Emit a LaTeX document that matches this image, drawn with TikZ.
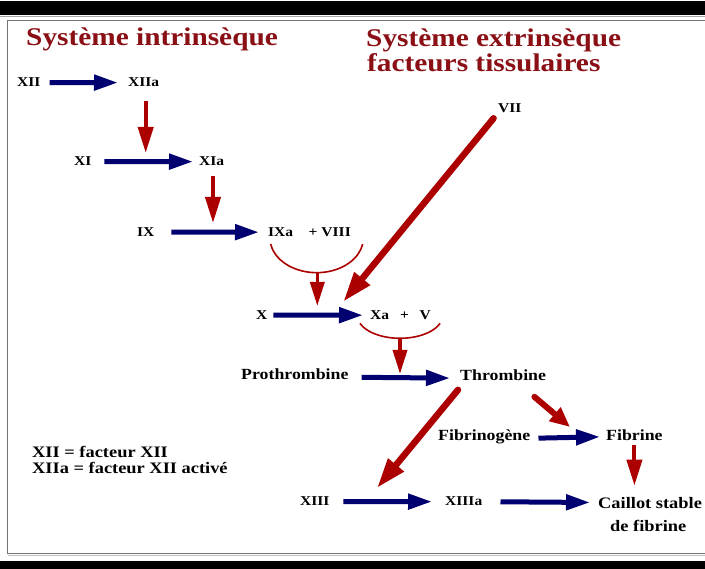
\documentclass[tikz,border=0pt]{standalone}
\usepackage{fontspec}
\setmainfont{Liberation Serif}
\usetikzlibrary{arrows.meta}
\definecolor{navyb}{RGB}{0,0,112}
\definecolor{redarr}{RGB}{172,0,0}
\definecolor{titlered}{RGB}{138,16,22}
\newcommand{\st}[1]{\scalebox{1.15}[1]{#1}}
\tikzset{
  num/.style={font=\fontsize{13.5}{16}\selectfont\bfseries, inner sep=0pt, anchor=base west},
  lbl/.style={font=\fontsize{15.5}{18}\selectfont\bfseries, inner sep=0pt, anchor=base west},
  big/.style={font=\fontsize{16}{18}\selectfont\bfseries, inner sep=0pt, anchor=base west},
  leg/.style={font=\fontsize{16}{18}\selectfont\bfseries, inner sep=0pt, anchor=base west},
  ttl/.style={font=\fontsize{25.5}{30}\selectfont\bfseries, text=titlered, inner sep=0pt, anchor=base west},
  bluearr/.style={draw=navyb, line width=5pt, -{Triangle[length=24pt,width=15pt]}},
  redv/.style={draw=redarr, line width=4pt, -{Triangle[length=26pt,width=15pt]}},
  redshort/.style={draw=redarr, line width=3.5pt, -{Triangle[length=24pt,width=14pt]}},
  reddiag/.style={draw=redarr, line width=6.5pt, line cap=round, -{Triangle[length=30pt,width=19pt]}},
  redsmall/.style={draw=redarr, line width=6pt, line cap=round, -{Triangle[length=20pt,width=17pt]}},
  arcline/.style={draw=redarr, line width=1.6pt},
  frameline/.style={draw=black!55, line width=1.3pt},
}
\begin{document}
\begin{tikzpicture}[x=1pt,y=-1pt]
\useasboundingbox (0,0) rectangle (705,569);
\fill[white] (0,0) rectangle (705,569);
% top and bottom bars
\fill[black] (0,1.5) rectangle (705,15);
\draw[black!35, line width=1pt] (0,16.2) -- (705,16.2);
\fill[black] (0,560.5) rectangle (705,569);
\draw[frameline] (705,20.7) -- (7.7,20.7) -- (7.7,553.5) -- (705,553.5);
\draw[black!25, line width=0.8pt] (7.7,555.5) -- (705,555.5);

% titles
\node[ttl] (t1) at (26,45.5) {\st{Système intrinsèque}};
\node[ttl] (t2) at (366,46.5) {\st{Système extrinsèque}};
\node[ttl] (t3) at (367,71.5) {\st{facteurs tissulaires}};

% factors
\node[num] (XII) at (17,87) {\st{XII}};
\node[num] (XIIa) at (128,87) {\st{XIIa}};
\node[num] (XI) at (74,166) {\st{XI}};
\node[num] (XIa) at (199,166) {\st{XIa}};
\node[num] (IX) at (137,236.5) {\st{IX}};
\node[num] (IXa) at (268,236.5) {\st{IXa\quad+ VIII}};
\node[num] (X) at (256,319.5) {\st{X}};
\node[num] (Xa) at (370,319.5) {\st{Xa\hspace{0.7em}+\hspace{0.7em}V}};
\node[num] (VII) at (498,112.5) {\st{VII}};
\node[lbl] (Pro) at (241,380) {\st{Prothrombine}};
\node[lbl] (Thr) at (460,381) {\st{Thrombine}};
\node[lbl] (Fgn) at (438,441) {\st{Fibrinogène}};
\node[lbl] (Fib) at (606,441) {\st{Fibrine}};
\node[num] (XIII) at (300,506) {\st{XIII}};
\node[num] (XIIIa) at (445,506) {\st{XIIIa}};
\node[big] (Cai) at (598,508) {\st{Caillot stable}};
\node[big] (Cai2) at (610,531.5) {\st{de fibrine}};

% legend
\node[leg] (L1) at (32,458) {\st{XII = facteur XII}};
\node[leg] (L2) at (32,473.5) {\st{XIIa = facteur XII activé}};

% navy arrows
\draw[bluearr, shorten <=9pt, shorten >=10pt] (XII.east) -- (XIIa.west);
\draw[bluearr, shorten <=12.8pt, shorten >=6pt] (XI.east) -- (XIa.west);
\draw[bluearr, shorten <=16.8pt, shorten >=9pt] (IX.east) -- (IXa.west);
\draw[bluearr, shorten <=5.8pt, shorten >=7pt] (X.east) -- (Xa.west);
\draw[bluearr, shorten <=13pt, shorten >=10pt] ([yshift=-2.5pt]Pro.east) -- ([yshift=-2.5pt]Thr.west);
\draw[bluearr, shorten <=8pt, shorten >=6pt] ([yshift=-1pt]Fgn.east) -- ([yshift=-1pt]Fib.west);
\draw[bluearr, shorten <=13.7pt, shorten >=13pt] (XIII.east) -- (XIIIa.west);
\draw[bluearr, shorten <=18pt, shorten >=8pt] (XIIIa.east) -- (Cai.west);

% arcs (cofactor brackets)
\draw[arcline] (270.7,244) arc[start angle=170, end angle=10, x radius=46.7, y radius=34.7];
\draw[arcline] (360,323.3) arc[start angle=160, end angle=20, x radius=42.6, y radius=22.8];

% free ends of red arrows
\coordinate (ta) at (145.7,153);
\coordinate (tb) at (213,223);
\coordinate (arcA) at (317.3,272.7);
\coordinate (tc) at (317.3,306);
\coordinate (arcB) at (400,338);
\coordinate (td) at (400,374);
\coordinate (tf) at (343.3,301.7);
\coordinate (tg) at (377,488);
\coordinate (th) at (570,427);

% red arrows
\draw[redv, shorten <=14pt] (XIIa.south -| ta) -- (ta);
\draw[redv, shorten <=10pt] (XIa.south -| tb) -- (tb);
\draw[redshort] (arcA) -- (tc);
\draw[redshort] (arcB) -- (td);
\draw[redv, shorten <=4pt, shorten >=11pt] (Fib.south) -- (Fib.south |- Cai.north);
\draw[reddiag, shorten <=7pt] (VII.south west) -- (tf);
\draw[reddiag, shorten <=11pt] ([xshift=5pt]Thr.south west) -- (tg);
\draw[redsmall, shorten <=24pt] ([xshift=13pt]Thr.south) -- (th);
\end{tikzpicture}
\end{document}
